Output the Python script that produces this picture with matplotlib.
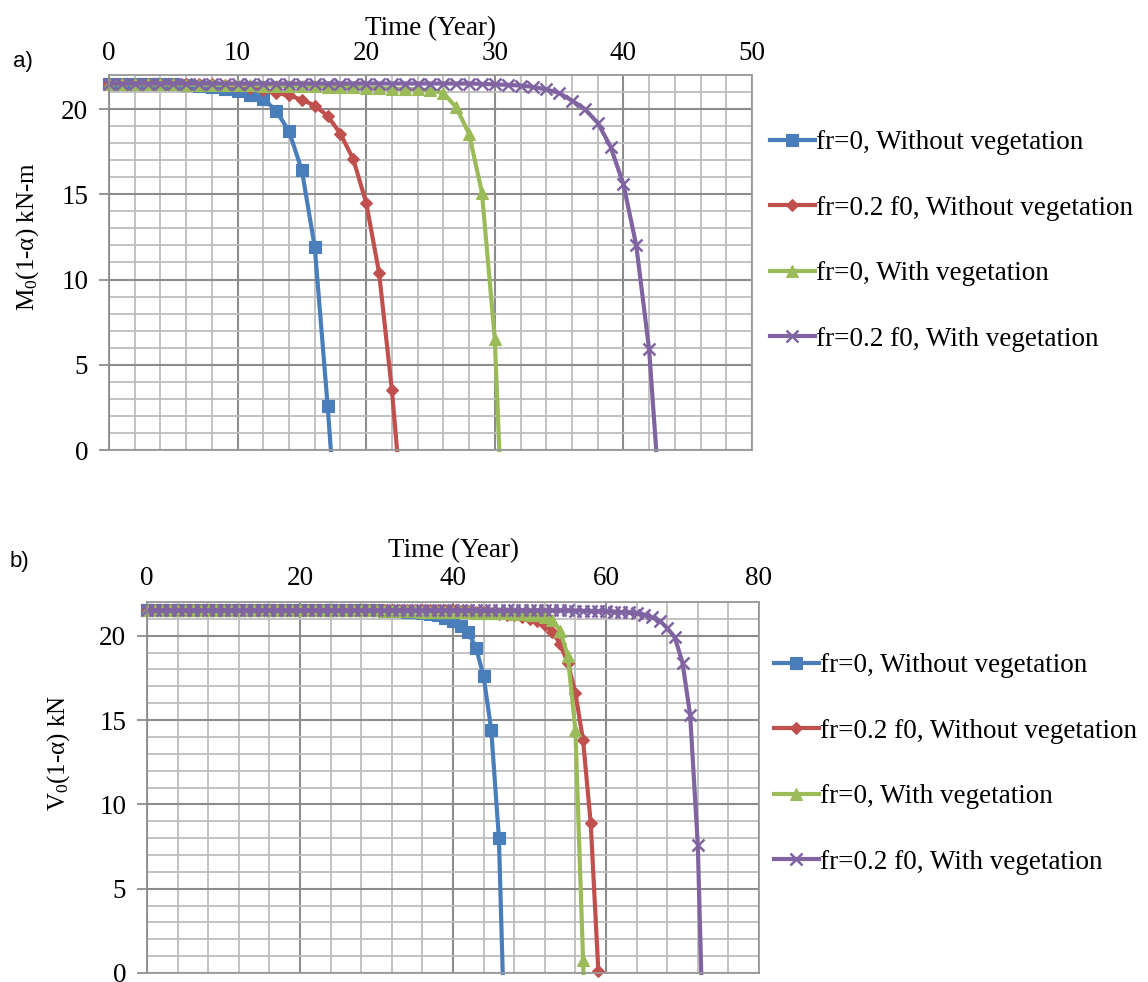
import matplotlib
matplotlib.use("Agg")
import matplotlib.pyplot as plt
from matplotlib.ticker import MultipleLocator

plt.rcParams['font.family'] = ['Liberation Serif', 'DejaVu Serif']
plt.rcParams['mathtext.fontset'] = 'custom'
plt.rcParams['mathtext.rm'] = 'Liberation Serif'
plt.rcParams['mathtext.it'] = 'Liberation Serif:italic'

labels = ['fr=0, Without vegetation', 'fr=0.2 f0, Without vegetation',
          'fr=0, With vegetation', 'fr=0.2 f0, With vegetation']
colors = ['#4a7ebb', '#c0504d', '#9bbb59', '#8064a2']
markers = ['s', 'D', '^', 'x']
msizes = [8.5, 6.5, 9, 8.5]

# panel a) bending moment vs time (years)
a_blue_x = [0, 1, 2, 3, 4, 5, 6, 7, 8, 9, 10, 11, 12, 13, 14, 15, 16, 17, 17.25]
a_blue_y = [21.5, 21.5, 21.5, 21.5, 21.5, 21.5, 21.43, 21.38, 21.3, 21.2, 21.05,
            20.85, 20.6, 19.9, 18.7, 16.4, 11.9, 2.6, 0]
a_red_x = [0, 1, 2, 3, 4, 5, 6, 7, 8, 9, 10, 11, 12, 13, 14, 15, 16, 17, 18,
           19, 20, 21, 22, 22.4]
a_red_y = [21.5, 21.5, 21.5, 21.5, 21.5, 21.5, 21.5, 21.48, 21.45, 21.4, 21.35,
           21.25, 21.1, 20.95, 20.8, 20.55, 20.2, 19.6, 18.55, 17.05, 14.5,
           10.4, 3.5, 0]
a_green_x = [0, 1, 2, 3, 4, 5, 6, 7, 8, 9, 10, 11, 12, 13, 14, 15, 16, 17, 18,
             19, 20, 21, 22, 23, 24, 25, 26, 27, 28, 29, 30, 30.35]
a_green_y = [21.5, 21.5, 21.48, 21.47, 21.46, 21.45, 21.44, 21.43, 21.42, 21.41,
             21.4, 21.39, 21.38, 21.37, 21.36, 21.35, 21.33, 21.32, 21.3, 21.28,
             21.25, 21.23, 21.2, 21.18, 21.15, 21.1, 20.95, 20.1, 18.55, 15.1,
             6.5, 0]
a_purple_x = [0, 1, 2, 3, 4, 5, 6, 7, 8, 9, 10, 11, 12, 13, 14, 15, 16, 17, 18,
              19, 20, 21, 22, 23, 24, 25, 26, 27, 28, 29, 30, 31, 32, 33, 34,
              35, 36, 37, 38, 39, 40, 41, 42, 42.55]
a_purple_y = [21.5, 21.5, 21.5, 21.5, 21.5, 21.5, 21.5, 21.5, 21.5, 21.5, 21.5,
              21.5, 21.5, 21.5, 21.5, 21.5, 21.5, 21.5, 21.5, 21.5, 21.5, 21.5,
              21.5, 21.5, 21.5, 21.5, 21.5, 21.5, 21.5, 21.48, 21.45, 21.42,
              21.38, 21.3, 21.15, 20.95, 20.5, 20.0, 19.2, 17.8, 15.6, 12.0,
              5.9, 0]

# panel b) shear force vs time (years)
b_blue_x = [0, 1, 2, 3, 4, 5, 6, 7, 8, 9, 10, 11, 12, 13, 14, 15, 16, 17, 18,
            19, 20, 21, 22, 23, 24, 25, 26, 27, 28, 29, 30, 31, 32, 33, 34, 35,
            36, 37, 38, 39, 40, 41, 42, 43, 44, 45, 46, 46.5]
b_blue_y = [21.5, 21.5, 21.5, 21.5, 21.5, 21.5, 21.5, 21.5, 21.5, 21.5, 21.5,
            21.5, 21.5, 21.5, 21.5, 21.5, 21.5, 21.5, 21.5, 21.5, 21.5, 21.5,
            21.5, 21.5, 21.5, 21.5, 21.5, 21.5, 21.5, 21.5, 21.5, 21.48, 21.46,
            21.44, 21.42, 21.4, 21.35, 21.3, 21.2, 21.05, 20.85, 20.6, 20.2,
            19.3, 17.6, 14.4, 8.0, 0]
b_red_x = [0, 1, 2, 3, 4, 5, 6, 7, 8, 9, 10, 11, 12, 13, 14, 15, 16, 17, 18,
           19, 20, 21, 22, 23, 24, 25, 26, 27, 28, 29, 30, 31, 32, 33, 34, 35,
           36, 37, 38, 39, 40, 41, 42, 43, 44, 45, 46, 47, 48, 49, 50, 51, 52,
           53, 54, 55, 56, 57, 58, 59]
b_red_y = [21.5, 21.5, 21.5, 21.5, 21.5, 21.5, 21.5, 21.5, 21.5, 21.5, 21.5,
           21.5, 21.5, 21.5, 21.5, 21.5, 21.5, 21.5, 21.5, 21.5, 21.5, 21.5,
           21.5, 21.5, 21.5, 21.5, 21.5, 21.5, 21.5, 21.5, 21.5, 21.5, 21.5,
           21.5, 21.5, 21.5, 21.5, 21.5, 21.5, 21.5, 21.5, 21.48, 21.46, 21.43,
           21.4, 21.35, 21.3, 21.25, 21.2, 21.1, 21.0, 20.85, 20.65, 20.25,
           19.5, 18.4, 16.6, 13.8, 8.9, 0.1]
b_green_x = [0, 1, 2, 3, 4, 5, 6, 7, 8, 9, 10, 11, 12, 13, 14, 15, 16, 17, 18,
             19, 20, 21, 22, 23, 24, 25, 26, 27, 28, 29, 30, 31, 32, 33, 34,
             35, 36, 37, 38, 39, 40, 41, 42, 43, 44, 45, 46, 47, 48, 49, 50,
             51, 52, 53, 54, 55, 56, 57, 57.05]
b_green_y = [21.5, 21.5, 21.5, 21.5, 21.5, 21.5, 21.5, 21.5, 21.5, 21.5, 21.5,
             21.5, 21.5, 21.5, 21.5, 21.5, 21.5, 21.5, 21.5, 21.5, 21.5, 21.5,
             21.5, 21.5, 21.5, 21.5, 21.5, 21.5, 21.5, 21.5, 21.5, 21.48, 21.47,
             21.46, 21.45, 21.44, 21.43, 21.42, 21.41, 21.4, 21.4, 21.39, 21.38,
             21.37, 21.36, 21.35, 21.34, 21.32, 21.3, 21.28, 21.25, 21.2, 21.1,
             20.95, 20.3, 18.8, 14.4, 0.8, 0]
b_purple_x = [0, 1, 2, 3, 4, 5, 6, 7, 8, 9, 10, 11, 12, 13, 14, 15, 16, 17, 18,
              19, 20, 21, 22, 23, 24, 25, 26, 27, 28, 29, 30, 31, 32, 33, 34,
              35, 36, 37, 38, 39, 40, 41, 42, 43, 44, 45, 46, 47, 48, 49, 50,
              51, 52, 53, 54, 55, 56, 57, 58, 59, 60, 61, 62, 63, 64, 65, 66,
              67, 68, 69, 70, 71, 72, 72.45]
b_purple_y = [21.5, 21.5, 21.5, 21.5, 21.5, 21.5, 21.5, 21.5, 21.5, 21.5, 21.5,
              21.5, 21.5, 21.5, 21.5, 21.5, 21.5, 21.5, 21.5, 21.5, 21.5, 21.5,
              21.5, 21.5, 21.5, 21.5, 21.5, 21.5, 21.5, 21.5, 21.5, 21.5, 21.5,
              21.5, 21.5, 21.5, 21.5, 21.5, 21.5, 21.5, 21.5, 21.5, 21.5, 21.5,
              21.5, 21.5, 21.5, 21.5, 21.5, 21.5, 21.5, 21.5, 21.5, 21.5, 21.5,
              21.5, 21.49, 21.48, 21.47, 21.46, 21.45, 21.43, 21.4, 21.38, 21.33,
              21.25, 21.1, 20.9, 20.45, 19.9, 18.4, 15.3, 7.6, 0]

series_a = [(a_blue_x, a_blue_y), (a_red_x, a_red_y),
            (a_green_x, a_green_y), (a_purple_x, a_purple_y)]
series_b = [(b_blue_x, b_blue_y), (b_red_x, b_red_y),
            (b_green_x, b_green_y), (b_purple_x, b_purple_y)]

FS = 19.5
W, H = 1148, 982


def style_axis(ax, xmax, xmajor, xminor, ylabel, top_pad, title_pad, ylabel_xy):
    ax.set_xlim(0, xmax)
    ax.set_ylim(0, 22)
    ax.xaxis.set_major_locator(MultipleLocator(xmajor))
    ax.xaxis.set_minor_locator(MultipleLocator(xminor))
    ax.yaxis.set_major_locator(MultipleLocator(5))
    ax.yaxis.set_minor_locator(MultipleLocator(1))
    ax.xaxis.tick_top()
    ax.xaxis.set_label_position('top')
    ax.set_xlabel('Time (Year)', fontsize=FS, labelpad=title_pad)
    ax.set_ylabel(ylabel, fontsize=18)
    ax.yaxis.set_label_coords(*ylabel_xy)
    ax.tick_params(axis='x', which='both', length=0, pad=top_pad, labelsize=FS)
    ax.tick_params(axis='y', which='major', length=7, width=1.3,
                   color='#8e8e8e', pad=8, labelsize=FS)
    ax.tick_params(axis='y', which='minor', length=0)
    ax.grid(which='major', color='#8c8c8c', lw=1.5)
    ax.grid(which='minor', color='#bdbdbd', lw=1.3)
    ax.set_axisbelow(True)
    for s in ax.spines.values():
        s.set_color('#9a9a9a')
        s.set_linewidth(1.3)
    ax.spines['left'].set_color('#8c8c8c')


def draw(ax, series):
    for (x, y), lab, c, m, ms in zip(series, labels, colors, markers, msizes):
        marked = [i for i, v in enumerate(y) if v > 0]
        ax.plot(x, y, color=c, lw=3, marker=m, ms=ms, markevery=marked,
                mew=1.8 if m == 'x' else 0.8, mec=c, label=lab, clip_on=False)


fig = plt.figure(figsize=(W / 100, H / 100), dpi=100)

ax_a = fig.add_axes([109 / W, (H - 450) / H, 643 / W, 375 / H])
ax_b = fig.add_axes([147 / W, (H - 973) / H, 612 / W, 371 / H])

draw(ax_a, series_a)
draw(ax_b, series_b)

style_axis(ax_a, 50, 10, 2, r'M$_0$(1-α) kN-m', 6.5, 4, (-0.106, 0.568))
style_axis(ax_b, 80, 20, 4, r'V$_0$(1-α) kN', 8, 6, (-0.1225, 0.593))

legend_kw = dict(loc='upper left', frameon=False, fontsize=19.5, labelspacing=1.5,
                 handlelength=1.65, handletextpad=0.05, borderpad=0,
                 borderaxespad=0, numpoints=1)
ax_a.legend(bbox_to_anchor=((770 - 109) / 643, (450 - 130) / 375), **legend_kw)
ax_b.legend(bbox_to_anchor=((774 - 147) / 612, (973 - 653) / 371), **legend_kw)

fig.text(13 / W, 1 - 62 / H, 'a)', fontsize=16, family='Liberation Sans', va='center')
fig.text(10 / W, 1 - 562 / H, 'b)', fontsize=16, family='Liberation Sans', va='center')

fig.savefig('out.png', dpi=100)
